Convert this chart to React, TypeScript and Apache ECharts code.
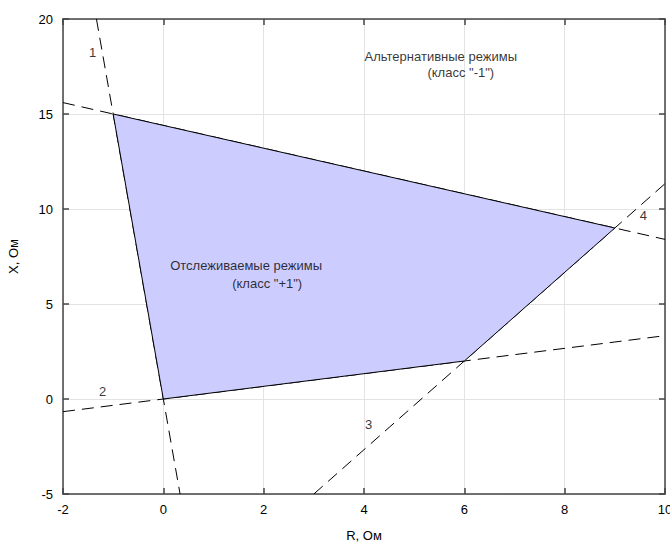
import React, { useEffect, useRef } from "react";
import * as echarts from "echarts";

const regionVertices: [number, number][] = [
  [-1, 15],
  [9, 9],
  [6, 2],
  [0, 0],
];

const line1: [number, number][] = [[-1.3333, 20], [0.3333, -5]];
const line2: [number, number][] = [[-2, -0.6667], [10, 3.3333]];
const line3: [number, number][] = [[3, -5], [10, 11.3333]];
const line4: [number, number][] = [[-2, 15.6], [10, 8.4]];

const lineLabels: { name: string; value: [number, number] }[] = [
  { name: "1", value: [-1.41, 18.22] },
  { name: "2", value: [-1.21, 0.4] },
  { name: "3", value: [4.09, -1.32] },
  { name: "4", value: [9.57, 9.67] },
];

const textNotes: { name: string; value: [number, number] }[] = [
  { name: "Альтернативные режимы", value: [5.53, 18.05] },
  { name: '(класс "-1")', value: [5.93, 17.17] },
  { name: "Отслеживаемые режимы", value: [1.65, 7.05] },
  { name: '(класс "+1")', value: [2.07, 6.1] },
];

const xTicks = { min: -2, max: 10, interval: 2 };
const yTicks = { min: -5, max: 20, interval: 5 };

const FONT = "Liberation Sans, Arial, sans-serif";

export default function App() {
  const ref = useRef<HTMLDivElement>(null);
  useEffect(() => {
    if (!ref.current) return;
    const chart = echarts.init(ref.current, undefined, { renderer: "svg" });
    const dashed = (data: [number, number][]) => ({
      type: "line",
      data,
      symbol: "none",
      silent: true,
      z: 2,
      lineStyle: { color: "#000", width: 1, type: [12, 7] },
    });
    const axisCommon = {
      type: "value",
      axisLine: { show: true, onZero: false, lineStyle: { color: "#444", width: 1.5 } },
      axisTick: { show: true, inside: true, length: 6, lineStyle: { color: "#444", width: 1.5 } },
    };
    const textStyle = { color: "#000", fontSize: 13, fontFamily: FONT };
    chart.setOption({
      animation: false,
      backgroundColor: "#fff",
      grid: { left: 63, right: 5, top: 19, bottom: 51, containLabel: false, outerBoundsMode: "none" },
      xAxis: [
        {
          ...axisCommon,
          ...xTicks,
          position: "bottom",
          name: "R, Ом",
          nameLocation: "middle",
          nameGap: 35,
          nameTextStyle: textStyle,
          axisLabel: { ...textStyle, margin: 9 },
          splitLine: { show: true, lineStyle: { color: "#e3e3e3", width: 1 } },
        },
        {
          ...axisCommon,
          ...xTicks,
          position: "top",
          axisLabel: { show: false },
          splitLine: { show: false },
        },
      ],
      yAxis: [
        {
          ...axisCommon,
          ...yTicks,
          position: "left",
          name: "X, Ом",
          nameLocation: "middle",
          nameGap: 43,
          nameTextStyle: textStyle,
          axisLabel: { ...textStyle, margin: 10 },
          splitLine: { show: true, lineStyle: { color: "#e3e3e3", width: 1 } },
        },
        {
          ...axisCommon,
          ...yTicks,
          position: "right",
          axisLabel: { show: false },
          splitLine: { show: false },
        },
      ],
      series: [
        dashed(line1),
        dashed(line2),
        dashed(line3),
        dashed(line4),
        {
          type: "custom",
          silent: true,
          z: 3,
          data: [0],
          renderItem: (_params: any, api: any) => ({
            type: "polygon",
            shape: { points: regionVertices.map((p) => api.coord(p)) },
            style: { fill: "#ccccff", stroke: "#000", lineWidth: 1 },
          }),
        },
        {
          type: "scatter",
          symbolSize: 0,
          silent: true,
          z: 5,
          data: lineLabels,
          label: { show: true, position: "inside", formatter: "{b}", ...textStyle },
        },
        {
          type: "scatter",
          symbolSize: 0,
          silent: true,
          z: 5,
          data: textNotes,
          label: { show: true, position: "inside", formatter: "{b}", ...textStyle },
        },
      ],
    });
    return () => chart.dispose();
  }, []);
  return <div ref={ref} style={{ width: 670, height: 545, position: "absolute", left: 0, top: 0 }} />;
}
